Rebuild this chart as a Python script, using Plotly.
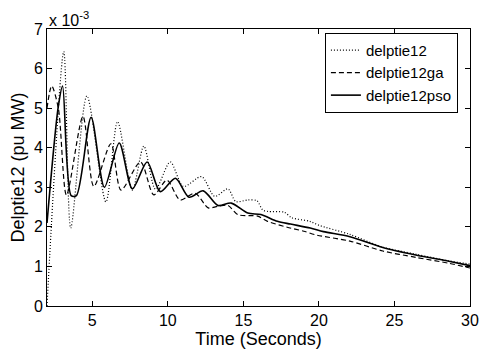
import plotly.graph_objects as go

# values in units of 1e-3 pu MW
t_base = [2, 3.11, 3.57, 4.64, 5.9, 6.67, 7.65, 8.41, 9.18, 10.16, 11.03, 12.23, 13.1, 13.98,
          14.5, 15.3, 15.9, 16.27, 16.6, 17.7, 18.2, 19.4, 20.0, 22.05, 24.2, 26.4, 28.6, 30]
v_base = [0, 6.43, 1.97, 5.31, 2.63, 4.66, 2.93, 4.04, 2.95, 3.64, 3.02, 3.27, 2.77, 2.96,
          2.64, 2.68, 2.66, 2.43, 2.39, 2.37, 2.23, 2.14, 2.04, 1.81, 1.49, 1.31, 1.14, 1.06]

t_ga = [2, 2.31, 2.75, 3.29, 4.38, 5.1, 6.23, 6.9, 8.19, 9.07, 9.94, 10.81, 11.8, 12.67, 13.3,
        13.98, 14.63, 15.94, 16.6, 17.9, 19.0, 19.87, 22.05, 24.23, 26.41, 28.6, 30]
v_ga = [5.0, 5.56, 5.0, 2.8, 4.79, 3.02, 4.1, 2.93, 3.64, 2.81, 3.18, 2.68, 2.85, 2.48, 2.52,
        2.54, 2.31, 2.27, 2.14, 1.99, 1.89, 1.79, 1.64, 1.39, 1.23, 1.08, 0.96]

t_pso = [2, 2.74, 3.03, 3.6, 3.95, 4.92, 5.8, 6.78, 7.65, 8.63, 9.5, 10.5, 11.4, 12.34, 13.32,
         14.19, 15.29, 16.16, 17.25, 18.12, 19.43, 20.3, 22.05, 24.23, 26.41, 28.6, 30]
v_pso = [2.1, 5.02, 5.56, 2.79, 2.79, 4.77, 3.0, 4.12, 2.96, 3.64, 2.89, 3.23, 2.75, 2.91, 2.54,
         2.6, 2.35, 2.31, 2.14, 2.07, 1.97, 1.88, 1.75, 1.48, 1.29, 1.13, 1.02]

x_ticks = [5, 10, 15, 20, 25, 30]
y_ticks = [0, 1, 2, 3, 4, 5, 6, 7]

FONT = "Arial, Liberation Sans, Helvetica, sans-serif"

fig = go.Figure()
fig.add_trace(go.Scatter(x=t_base, y=v_base, mode="lines", name="delptie12",
                         line=dict(color="black", width=1.2, dash="1px,2px", shape="spline", smoothing=0.8)))
fig.add_trace(go.Scatter(x=t_ga, y=v_ga, mode="lines", name="delptie12ga",
                         line=dict(color="black", width=1.2, dash="5px,3px", shape="spline", smoothing=0.8)))
fig.add_trace(go.Scatter(x=t_pso, y=v_pso, mode="lines", name="delptie12pso",
                         line=dict(color="black", width=1.6, shape="spline", smoothing=0.8)))

axis_common = dict(showline=True, linecolor="black", linewidth=1, mirror="ticks",
                   ticks="inside", ticklen=5, tickcolor="black", showgrid=False,
                   zeroline=False, tickfont=dict(size=16, color="black", family=FONT))

fig.update_xaxes(range=[2, 30], tickvals=x_ticks, **axis_common,
                 title=dict(text="Time (Seconds)", font=dict(size=18, color="black", family=FONT), standoff=0))
fig.update_yaxes(range=[0, 7], tickvals=y_ticks, **axis_common,
                 title=dict(text="Delptie12 (pu MW)", font=dict(size=18, color="black", family=FONT), standoff=4))

fig.add_annotation(text="x 10<sup>-3</sup>", xref="paper", yref="paper", x=0, y=1,
                   xanchor="left", yanchor="bottom", yshift=-2, showarrow=False,
                   font=dict(size=16, color="black", family=FONT))

fig.update_layout(
    width=491, height=354,
    margin=dict(l=47, r=16, t=29, b=45),
    plot_bgcolor="white", paper_bgcolor="white",
    font=dict(family=FONT, color="black"),
    legend=dict(x=0.657, y=0.986, xanchor="left", yanchor="top",
                bordercolor="black", borderwidth=1, bgcolor="white",
                font=dict(size=15, color="black", family=FONT),
                tracegroupgap=0, itemwidth=30),
    showlegend=True,
)

fig.write_html("out.html")
